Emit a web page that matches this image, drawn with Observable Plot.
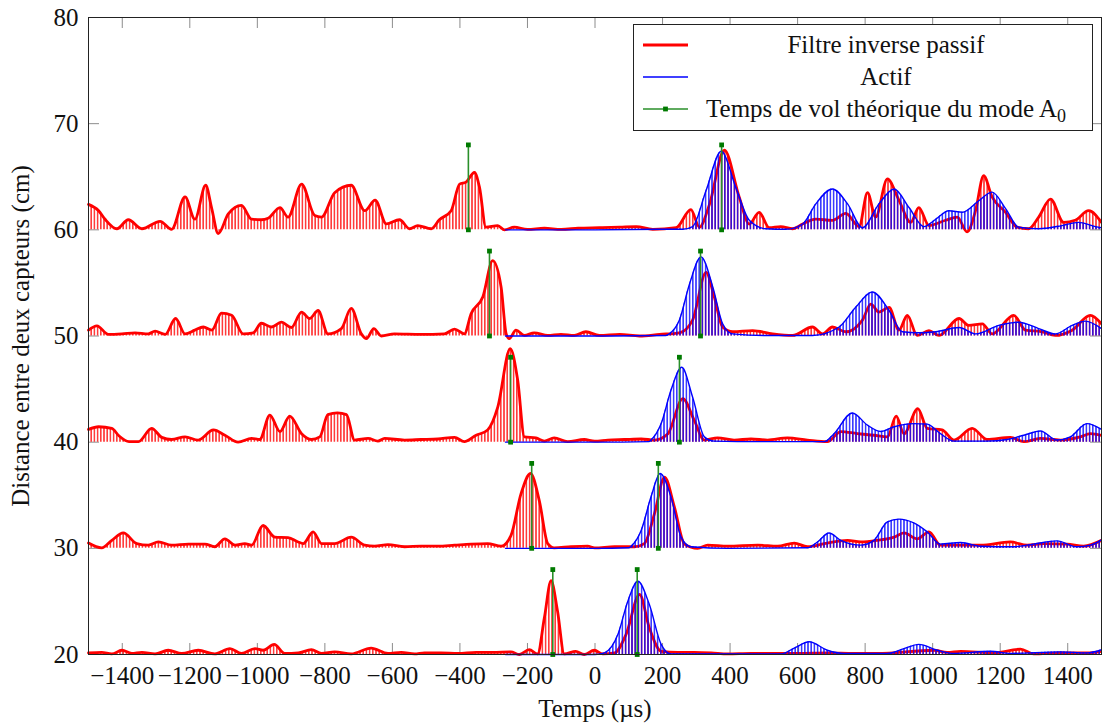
<!DOCTYPE html>
<html><head><meta charset="utf-8">
<script src="https://cdn.jsdelivr.net/npm/d3@7"></script>
<script src="https://cdn.jsdelivr.net/npm/@observablehq/plot@0.6"></script>
<style>body{margin:0;background:#fff} #chart{width:1102px;height:727px}</style>
</head><body><div id="chart"></div>
<script>
// ---------------- DATA ----------------
const distances = [20, 30, 40, 50, 60];            // cm, baseline of each trace
const tofTimes  = [125, 187.5, 250, 312.5, 375];    // µs, theoretical A0 time of flight (±)
const markerHeight = 8;                              // cm, height of the green marker
const xTicks = [-1400,-1200,-1000,-800,-600,-400,-200,0,200,400,600,800,1000,1200,1400];
const yTicks = [20,30,40,50,60,70,80];
const seriesNames = ["Filtre inverse passif", "Actif", "Temps de vol théorique du mode A_0"];
const xLabel = "Temps (µs)";
const yLabel = "Distance entre deux capteurs (cm)";

// [time µs, envelope amplitude cm above baseline]
const passif60 = [[-1500,2.4],[-1470,1.8],[-1451,1.0],[-1416,0.1],[-1382,0.95],[-1342,0.1],[-1288,0.8],[-1254,0.05],[-1214,3.1],[-1185,1.0],[-1153,4.2],[-1135,2.0],[-1116,-0.35],[-1086,1.5],[-1047,2.3],[-1017,1.0],[-988,0.95],[-968,1.1],[-933,2.1],[-909,1.2],[-869,4.3],[-830,1.35],[-810,1.2],[-771,3.5],[-722,4.2],[-682,1.8],[-651,2.8],[-618,0.56],[-579,0.95],[-549,0.1],[-525,0.4],[-485,0.1],[-461,0.95],[-426,1.8],[-401,4.3],[-382,4.5],[-357,5.4],[-342,4.0],[-323,0.25],[-288,0.4],[-268,0],[-239,0.25],[-200,0.05],[-150,0.15],[-100,0.05],[-50,0.15],[13,0.2],[73,0.25],[122,0.3],[171,0.05],[240,0.2],[284,1.9],[309,0.25],[339,2.4],[383,7.5],[427,3.1],[457,0.55],[486,1.65],[516,0.2],[550,0.3],[585,0.1],[615,0.55],[654,1.0],[703,0.9],[743,1.55],[782,0.3],[807,3.5],[831,1.2],[866,4.8],[900,2.8],[935,0.7],[959,2.1],[989,0.4],[1038,0.9],[1073,1.2],[1102,-0.2],[1127,1.8],[1151,5.1],[1176,3.1],[1216,1.65],[1250,0.25],[1284,0.1],[1314,1.2],[1349,2.9],[1388,0.7],[1422,0.9],[1462,1.8],[1500,0.7]];
const actif60 = [[-265,0],[0,0],[200,0.05],[260,0.05],[289,0.3],[329,3.7],[374,7.4],[417,4.0],[457,0.9],[506,0.1],[565,0.05],[615,0.55],[654,2.45],[703,3.85],[748,2.45],[792,0.2],[841,2.45],[886,3.85],[930,2.1],[974,0.3],[1009,1.0],[1048,1.8],[1088,1.65],[1137,2.75],[1176,3.55],[1216,2.0],[1255,0.25],[1314,0.1],[1383,0.4],[1432,0.7],[1482,0.3],[1500,0.2]];

const passif50 = [[-1500,0.55],[-1475,0.95],[-1441,0.15],[-1401,0.2],[-1362,0.3],[-1323,0.2],[-1303,0.45],[-1273,0.15],[-1242,1.65],[-1214,0.2],[-1185,0.55],[-1160,0.85],[-1135,0.55],[-1106,2.15],[-1076,1.95],[-1042,0.2],[-1012,0.3],[-988,1.2],[-958,0.85],[-929,1.3],[-899,0.8],[-869,2.25],[-845,1.65],[-820,2.4],[-791,0.2],[-751,0.7],[-722,2.6],[-692,0.2],[-677,-0.25],[-655,0.7],[-633,0],[-594,0.2],[-515,0.15],[-446,0.2],[-416,0.65],[-387,0.2],[-367,2.1],[-332,3.7],[-303,7.1],[-278,4.6],[-263,0.2],[-254,-0.25],[-234,0.55],[-209,0.05],[-180,0.3],[-140,0.05],[-101,0.15],[-61,0.05],[-27,0.4],[13,0.05],[73,0.15],[132,0],[191,0.15],[250,0.3],[289,1.5],[329,6.0],[353,3.7],[378,0.85],[408,0.4],[467,0.5],[526,0.2],[585,0.05],[644,0.85],[674,0.2],[703,0.85],[743,0.4],[792,1.5],[817,3.0],[841,2.25],[871,2.7],[900,0.55],[925,1.95],[954,0.05],[989,0.5],[1019,0.05],[1078,1.65],[1107,1.0],[1147,1.15],[1176,0.2],[1240,1.95],[1275,0.55],[1324,0.4],[1363,0.05],[1413,0.55],[1467,1.95],[1500,1.15]];
const actif50 = [[-265,0],[0,0],[210,0.05],[220,0.2],[250,1.5],[280,4.9],[314,7.45],[349,4.6],[378,1.15],[408,0.2],[506,0.05],[644,0.05],[723,0.85],[772,2.7],[821,4.15],[871,2.4],[910,0.4],[959,0.3],[1009,0.4],[1078,0.8],[1127,0.2],[1196,1.0],[1255,1.3],[1314,0.7],[1363,0.2],[1413,1.0],[1452,1.4],[1500,0.7]];

const passif40 = [[-1500,1.2],[-1470,1.45],[-1431,1.3],[-1410,0.6],[-1380,0.05],[-1352,0.05],[-1313,1.3],[-1283,0.45],[-1254,0.25],[-1214,0.5],[-1175,0.2],[-1130,1.15],[-1096,0.65],[-1057,0],[-1017,0.35],[-993,0.25],[-963,2.55],[-933,1.0],[-904,2.45],[-869,0.8],[-840,0.25],[-815,0.5],[-791,2.6],[-763,2.75],[-736,2.6],[-712,0.2],[-672,0.35],[-643,0.1],[-623,0.35],[-564,0.2],[-515,0.25],[-465,0.3],[-416,0.45],[-387,0.05],[-352,0.65],[-318,1.15],[-288,3.3],[-251,8.8],[-229,5.85],[-209,0.5],[-175,0.4],[-150,0.1],[-121,0.4],[-81,0.05],[-32,0.25],[-1,0.1],[38,0.2],[87,0.25],[137,0.3],[176,0.2],[216,0.8],[260,4.1],[294,2.05],[324,0.2],[363,0.4],[412,0.2],[462,0.3],[511,0.2],[570,0.4],[629,0.2],[688,0.05],[728,1.0],[777,0.8],[826,0.65],[866,0.5],[892,2.45],[915,0.8],[956,3.15],[984,1.3],[1028,1.15],[1063,0.2],[1117,1.3],[1161,0.25],[1230,0.45],[1270,0.05],[1319,0.35],[1378,0.2],[1437,0.5],[1467,0.8],[1500,0.65]];
const actif40 = [[-265,0],[0,0],[160,0.05],[166,0.2],[196,1.75],[225,4.9],[257,7.05],[289,4.25],[324,0.5],[353,0.1],[491,0.05],[679,0.05],[708,0.8],[762,2.75],[807,1.6],[846,1.0],[886,1.45],[944,1.75],[984,1.7],[1023,0.8],[1063,0.1],[1161,0.1],[1220,0.25],[1270,0.65],[1319,1.05],[1368,0.2],[1408,0.5],[1457,1.75],[1500,1.2]];

const passif30 = [[-1500,0.5],[-1461,0.05],[-1431,0.75],[-1397,1.45],[-1357,0.45],[-1323,0.3],[-1293,0.6],[-1254,0.3],[-1204,0.4],[-1155,0.4],[-1126,0.15],[-1096,0.9],[-1066,0.3],[-1037,0.45],[-1017,0.3],[-983,2.15],[-948,1.05],[-909,1.0],[-879,0.6],[-864,0.45],[-835,1.55],[-810,0.45],[-771,0.45],[-722,1.05],[-682,0.3],[-653,0.2],[-613,0.35],[-564,0.15],[-515,0.2],[-465,0.2],[-416,0.3],[-367,0.4],[-318,0.45],[-278,0.2],[-249,1.2],[-219,5.15],[-191,7.05],[-165,4.5],[-140,0.45],[-121,0.05],[-71,0.15],[-22,0.2],[-1,0.05],[58,0.15],[117,0.15],[146,0.45],[176,3.25],[206,6.7],[235,3.9],[265,0.4],[304,0],[334,0.3],[393,0.2],[482,0.3],[541,0.2],[590,0.5],[629,0.15],[688,0.5],[748,0.75],[787,0.6],[836,0.75],[886,1.05],[915,1.45],[954,0.9],[989,1.55],[1023,0.3],[1083,0.3],[1142,0.3],[1230,0.6],[1280,0.3],[1329,0.45],[1398,0.4],[1447,0.2],[1500,0.75]];
const actif30 = [[-265,0],[0,0],[100,0.05],[107,0.2],[137,1.7],[166,4.85],[193,7.05],[225,4.85],[255,1.05],[284,0.15],[393,0],[629,0.05],[659,0.6],[693,1.45],[728,0.75],[787,0.3],[826,0.75],[866,2.5],[900,2.75],[944,2.4],[984,1.55],[1023,0.4],[1083,0.55],[1142,0.2],[1240,0.15],[1299,0.4],[1368,0.7],[1427,0.15],[1467,0.3],[1500,0.8]];

const passif20 = [[-1500,0.15],[-1461,0.2],[-1431,0.05],[-1401,0.4],[-1372,0.1],[-1342,0.2],[-1303,0.05],[-1264,0.4],[-1224,0.1],[-1175,0.4],[-1126,0.05],[-1081,0.55],[-1047,0.1],[-1007,0.55],[-983,0.4],[-950,0.95],[-919,0.1],[-879,0.15],[-840,0.45],[-810,0.1],[-771,0.25],[-722,0.05],[-663,0.6],[-613,0.1],[-574,0.2],[-534,0.05],[-505,0.15],[-456,0.15],[-406,0.1],[-352,0.2],[-303,0.2],[-249,0.25],[-224,0],[-195,0.45],[-170,0.05],[-150,3.45],[-130,6.95],[-111,4.1],[-91,0.05],[-57,0.3],[-32,0],[-2,0.4],[23,0.05],[58,0.15],[92,1.9],[132,5.65],[161,2.5],[196,0.3],[245,0.2],[294,0.2],[344,0.15],[393,0.05],[462,0.1],[531,0.1],[600,0.1],[688,0.15],[767,0.1],[836,0.1],[1004,0.4],[1043,0.2],[1083,0.3],[1181,0.15],[1260,0.5],[1299,0.05],[1378,0.15],[1457,0.15],[1500,0.3]];
const actif20 = [[-265,0],[0,0],[28,0.15],[68,1.9],[97,5.0],[127,6.9],[161,4.7],[196,0.95],[225,0.05],[550,0.05],[590,0.6],[634,1.2],[688,0.4],[738,0.1],[866,0.1],[915,0.55],[959,0.95],[1014,0.4],[1063,0.1],[1171,0.3],[1230,0.1],[1378,0.25],[1457,0.15],[1500,0.45]];

const passifSeries = [passif20, passif30, passif40, passif50, passif60];
const actifSeries  = [actif20, actif30, actif40, actif50, actif60];

// ---------------- LAYOUT / STYLE ----------------
const W = 1102, H = 727, mT = 17, mB = 73, mL = 88, mR = 1;
const innerH = H - mT - mB, innerW = W - mL - mR, tickLen = 11;
const RED = "#ff0000", BLUE = "#0000ff", GREEN = "#2a8f2a", GREEN_M = "#007a00";
const FONT = "'Liberation Serif', 'DejaVu Serif', serif";
const fmt = d => d < 0 ? "\u2212" + Math.abs(d) : String(d);

const toRows = (series) => series.flatMap((arr, i) =>
  arr.map(([t, a]) => ({t, d: distances[i], y: distances[i] + a})));
const passifRows = toRows(passifSeries);
const actifRows = toRows(actifSeries);
const tofRows = distances.flatMap((d, i) => [-tofTimes[i], tofTimes[i]].map(t => ({t, d, top: d + markerHeight})));
const tofEnds = tofRows.flatMap(r => [{t: r.t, y: r.d}, {t: r.t, y: r.top}]);

const svgEl = Plot.plot({
  width: W, height: H, marginTop: mT, marginBottom: mB, marginLeft: mL, marginRight: mR,
  style: {fontFamily: FONT, fontSize: "25px", color: "#111", background: "#fff"},
  x: {domain: [-1500, 1500], ticks: xTicks, tickFormat: fmt, tickSize: 0, tickPadding: 12, label: null},
  y: {domain: [20, 80], ticks: yTicks, tickFormat: d => String(d), tickSize: 0, tickPadding: 10, label: null},
  marks: [
    Plot.ruleX(xTicks, {x: d => d, insetTop: innerH - tickLen, stroke: "#8c8c8c", strokeWidth: 1}),
    Plot.ruleX(xTicks, {x: d => d, insetBottom: innerH - tickLen, stroke: "#8c8c8c", strokeWidth: 1}),
    Plot.ruleY(yTicks, {y: d => d, insetRight: innerW - tickLen, stroke: "#8c8c8c", strokeWidth: 1}),
    Plot.ruleY(yTicks, {y: d => d, insetLeft: innerW - tickLen, stroke: "#8c8c8c", strokeWidth: 1}),
    Plot.areaY(passifRows, {x: "t", y1: "d", y2: "y", z: "d", fill: "url(#hatchRed)", curve: "monotone-x"}),
    Plot.lineY(passifRows, {x: "t", y: "y", z: "d", stroke: RED, strokeWidth: 2.8, curve: "monotone-x"}),
    Plot.areaY(actifRows, {x: "t", y1: "d", y2: "y", z: "d", fill: "url(#hatchBlue)", curve: "monotone-x"}),
    Plot.lineY(actifRows, {x: "t", y: "y", z: "d", stroke: BLUE, strokeWidth: 1.4, curve: "monotone-x"}),
    Plot.ruleX(tofRows, {x: "t", y1: "d", y2: "top", stroke: GREEN, strokeWidth: 1.6}),
    Plot.dot(tofEnds, {x: "t", y: "y", symbol: "square", r: 2.7, fill: GREEN_M, stroke: null}),
    Plot.frame({stroke: "#222", strokeWidth: 1}),
    Plot.text([xLabel], {frameAnchor: "bottom", dy: 54, textAnchor: "middle", lineAnchor: "middle", text: d => d, fontSize: 25, fill: "#111"}),
    Plot.text([yLabel], {frameAnchor: "left", dx: -68, rotate: -90, textAnchor: "middle", lineAnchor: "middle", text: d => d, fontSize: 25, fill: "#111"})
  ]
});
document.getElementById("chart").appendChild(svgEl);

// hatch patterns that imitate the dense carrier oscillation under each envelope
const svg = d3.select(svgEl);
const defs = svg.insert("defs", ":first-child");
[["hatchRed", RED, 0.95], ["hatchBlue", BLUE, 0.95]].forEach(([id, c, op]) => {
  const p = defs.append("pattern").attr("id", id).attr("patternUnits", "userSpaceOnUse")
    .attr("width", 3.2).attr("height", 8);
  p.append("line").attr("x1", 1.6).attr("x2", 1.6).attr("y1", 0).attr("y2", 8)
    .attr("stroke", c).attr("stroke-width", 1.3).attr("stroke-opacity", op);
});

// legend box (inside the plot, top-right)
const lg = svg.append("g").attr("font-family", FONT).attr("font-size", 25).attr("fill", "#111");
lg.append("rect").attr("x", 633.5).attr("y", 24.5).attr("width", 459).attr("height", 106)
  .attr("fill", "#fff").attr("stroke", "#222").attr("stroke-width", 1);
const rowsY = [45, 77, 109];
const sx1 = 643, sx2 = 688, tx = 886;
lg.append("line").attr("x1", sx1).attr("x2", sx2).attr("y1", rowsY[0]).attr("y2", rowsY[0]).attr("stroke", RED).attr("stroke-width", 3);
lg.append("line").attr("x1", sx1).attr("x2", sx2).attr("y1", rowsY[1]).attr("y2", rowsY[1]).attr("stroke", BLUE).attr("stroke-width", 1.4);
lg.append("line").attr("x1", sx1).attr("x2", sx2).attr("y1", rowsY[2]).attr("y2", rowsY[2]).attr("stroke", GREEN).attr("stroke-width", 1.6);
lg.append("rect").attr("x", (sx1 + sx2) / 2 - 2.4).attr("y", rowsY[2] - 2.4).attr("width", 4.8).attr("height", 4.8).attr("fill", GREEN_M);
seriesNames.forEach((name, i) => {
  const [main, sub] = name.split("_");
  const t = lg.append("text").attr("x", tx).attr("y", rowsY[i] + 8).attr("text-anchor", "middle").text(main);
  if (sub) t.append("tspan").attr("font-size", 18).attr("dy", 5).text(sub);
});
</script>
</body></html>
